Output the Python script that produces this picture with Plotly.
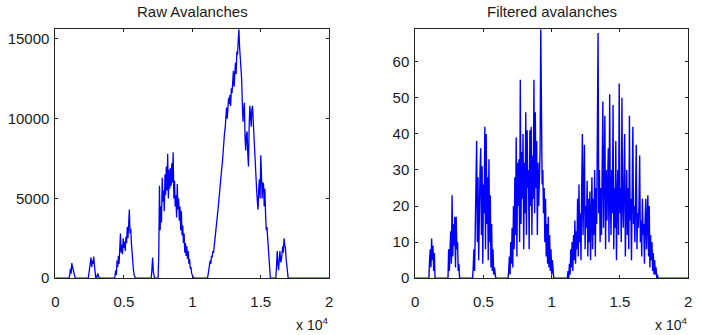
import plotly.graph_objects as go

# ---------------- data (sample index step, burst start, values) ----------------
RAW_STEP = 50
RAW_LEN = 20000
raw_bursts = {
    1000: [0, 200, 600, 300, 950, 700, 500, 200, 0],
    2400: [0, 300, 800, 1200, 1300, 700, 1100, 900, 1350, 800, 200, 0, 0, 150, 300, 100, 0],
    4300: [0, 100, 500, 200, 1100, 700, 1400, 900, 1800, 2800, 1600, 2100, 1500, 2500, 1900, 2300,
           1700, 2600, 2200, 3200, 2500, 3300, 4300, 2800, 3100, 2200, 1500, 900, 500, 200, 0],
    7000: [0, 600, 1300, 400, 0, 0, 0, 0, 0, 0, 0, 1500, 5800, 3000, 4500, 3500, 6300, 4800, 5500,
           4200, 6500, 5200, 7000, 5500, 7800, 5000, 6800, 5600, 6900, 5800, 7200, 6000, 7900, 5000,
           6100, 4500, 5200, 3800, 5900, 4300, 5000, 3600, 4500, 3000, 4200, 2700, 3300, 2200, 2800,
           1600, 2200, 1400, 2000, 1200, 1700, 900, 1200, 600, 700, 300, 200, 0],
    11100: [0, 200, 500, 800, 1100, 900, 1400, 1300, 1700, 1600, 2000, 2100, 2600, 3000, 3700, 4100,
            4500, 5000, 5600, 6000, 6300, 6900, 7300, 8200, 8500, 9100, 9400, 10500, 10700, 10000,
            10600, 11300, 10900, 11500, 10800, 11900, 11600, 12800, 13000, 12000, 12600, 13500,
            12800, 14200, 14000, 15000, 15600, 14500, 13800, 12900, 12500, 11000, 9800, 10500,
            11000, 8800, 8000, 9000, 9200, 7800, 7000, 9500, 10800, 10200, 9500, 10600, 10800, 9800,
            8800, 7500, 7000, 6000, 5500, 4800, 4300, 5600, 6200, 5000, 7700, 6500, 5000, 6000, 5900,
            4500, 5600, 4000, 3000, 3200, 2500, 1800, 1000, 400, 0],
    16100: [0, 800, 1700, 900, 500, 1200, 1700, 1000, 1100, 1500, 2000, 1600, 2500, 2100, 1900, 1200,
            600, 200, 0],
}

FILT_STEP = 50
FILT_LEN = 20000
filt_bursts = {
    1000: [0, 5, 8, 3, 11, 5, 9, 2, 7, 0],
    2400: [0, 8, 2, 8, 13, 4, 23, 6, 15, 9, 17, 3, 17, 8, 10, 2, 4, 0],
    4200: [0, 3, 8, 2, 18, 25, 38, 10, 28, 5, 22, 30, 36, 12, 31, 4, 26, 18, 42, 8, 40, 15, 28, 5,
           33, 10, 23, 3, 15, 2, 8, 1, 3, 0],
    6800: [0, 2, 6, 1, 10, 4, 14, 3, 20, 8, 28, 12, 39, 6, 32, 20, 33, 10, 55, 15, 35, 22, 40, 8,
           32, 18, 46, 12, 41, 25, 30, 8, 41, 20, 42, 12, 34, 22, 55, 18, 46, 25, 38, 12, 32, 20,
           28, 35, 69, 44, 26, 30, 18, 25, 10, 22, 6, 15, 4, 17, 3, 12, 2, 8, 1, 5, 1, 0],
    11150: [0, 2, 0, 4, 1, 8, 3, 10, 2, 12, 5, 16, 4, 13, 8, 22, 6, 26, 10, 18, 5, 25, 40, 12, 22,
            37, 8, 20, 14, 27, 6, 22, 10, 24, 5, 18, 28, 8, 22, 12, 30, 6, 25, 15, 35, 68, 18, 30,
            10, 25, 12, 35, 49, 14, 28, 45, 8, 30, 16, 25, 36, 10, 51, 22, 12, 30, 18, 48, 8, 25,
            14, 38, 5, 22, 30, 12, 54, 18, 25, 10, 50, 20, 14, 28, 40, 6, 20, 30, 12, 25, 8, 45,
            16, 22, 5, 28, 42, 15, 20, 10, 26, 37, 8, 18, 14, 20, 34, 10, 16, 6, 22, 12, 15, 4,
            16, 22, 8, 14, 23, 6, 20, 3, 12, 5, 10, 2, 7, 1, 5, 1, 3, 0, 1, 0],
}

x_tick_vals = [0, 5000, 10000, 15000, 20000]
x_tick_text = ["0", "0.5", "1", "1.5", "2"]
raw_y_ticks = [0, 5000, 10000, 15000]
raw_y_text = ["0", "5000", "10000", "15000"]
filt_y_ticks = [0, 10, 20, 30, 40, 50, 60]
filt_y_text = ["0", "10", "20", "30", "40", "50", "60"]
titles = ["Raw Avalanches", "Filtered avalanches"]


def assemble(bursts, step, length):
    n = length // step + 1
    ys = [0] * n
    for start, vals in bursts.items():
        i0 = start // step
        for k, v in enumerate(vals):
            ys[i0 + k] = v
    xs = [i * step for i in range(n)]
    return xs, ys


raw_x, raw_y = assemble(raw_bursts, RAW_STEP, RAW_LEN)
filt_x, filt_y = assemble(filt_bursts, FILT_STEP, FILT_LEN)

FONT = "Liberation Sans, Arial, Helvetica, sans-serif"
TXT = "#1a1a1a"
W, H = 701, 335
dom_l = [52 / W, 329 / W]
dom_r = [416 / W, 692 / W]
dom_y = [(H - 285) / H, (H - 30) / H]

fig = go.Figure()
fig.add_trace(go.Scatter(x=raw_x, y=raw_y, mode="lines", line=dict(color="#0000ff", width=1.3),
                         xaxis="x", yaxis="y", showlegend=False))
fig.add_trace(go.Scatter(x=filt_x, y=filt_y, mode="lines", line=dict(color="#0000ff", width=1.4),
                         xaxis="x2", yaxis="y2", showlegend=False))

axis_common = dict(showline=True, linecolor="#222", linewidth=1, mirror="ticks",
                   ticks="inside", ticklen=3, tickcolor="#222", showgrid=False, zeroline=False,
                   tickfont=dict(family=FONT, size=15, color=TXT))

fig.update_layout(
    width=W, height=H, margin=dict(l=0, r=0, t=0, b=0),
    paper_bgcolor="white", plot_bgcolor="white",
    xaxis=dict(domain=dom_l, range=[0, 20000], tickvals=x_tick_vals, ticktext=x_tick_text,
               anchor="y", ticklabelstandoff=10, **axis_common),
    yaxis=dict(domain=dom_y, range=[0, 15600], tickvals=raw_y_ticks, ticktext=raw_y_text,
               anchor="x", ticklabelstandoff=2, **axis_common),
    xaxis2=dict(domain=dom_r, range=[0, 20000], tickvals=x_tick_vals, ticktext=x_tick_text,
                anchor="y2", ticklabelstandoff=10, **axis_common),
    yaxis2=dict(domain=dom_y, range=[0, 69], tickvals=filt_y_ticks, ticktext=filt_y_text,
                anchor="x2", ticklabelstandoff=2, **axis_common),
)

# titles
for dom, t in zip([dom_l, dom_r], titles):
    fig.add_annotation(text=t, x=(dom[0] + dom[1]) / 2, y=1 - 12 / H, xref="paper", yref="paper",
                       showarrow=False, font=dict(family=FONT, size=15, color=TXT),
                       xanchor="center", yanchor="middle")
# exponent labels
for dom in [dom_l, dom_r]:
    fig.add_annotation(text="x 10<sup>4</sup>", x=dom[1] + 1 / W, y=1 - 332 / H, xref="paper",
                       yref="paper", showarrow=False, font=dict(family=FONT, size=14, color=TXT),
                       xanchor="right", yanchor="middle")

fig.write_html("out.html", config={"displayModeBar": False},
               post_script="document.body.style.margin='0';")
